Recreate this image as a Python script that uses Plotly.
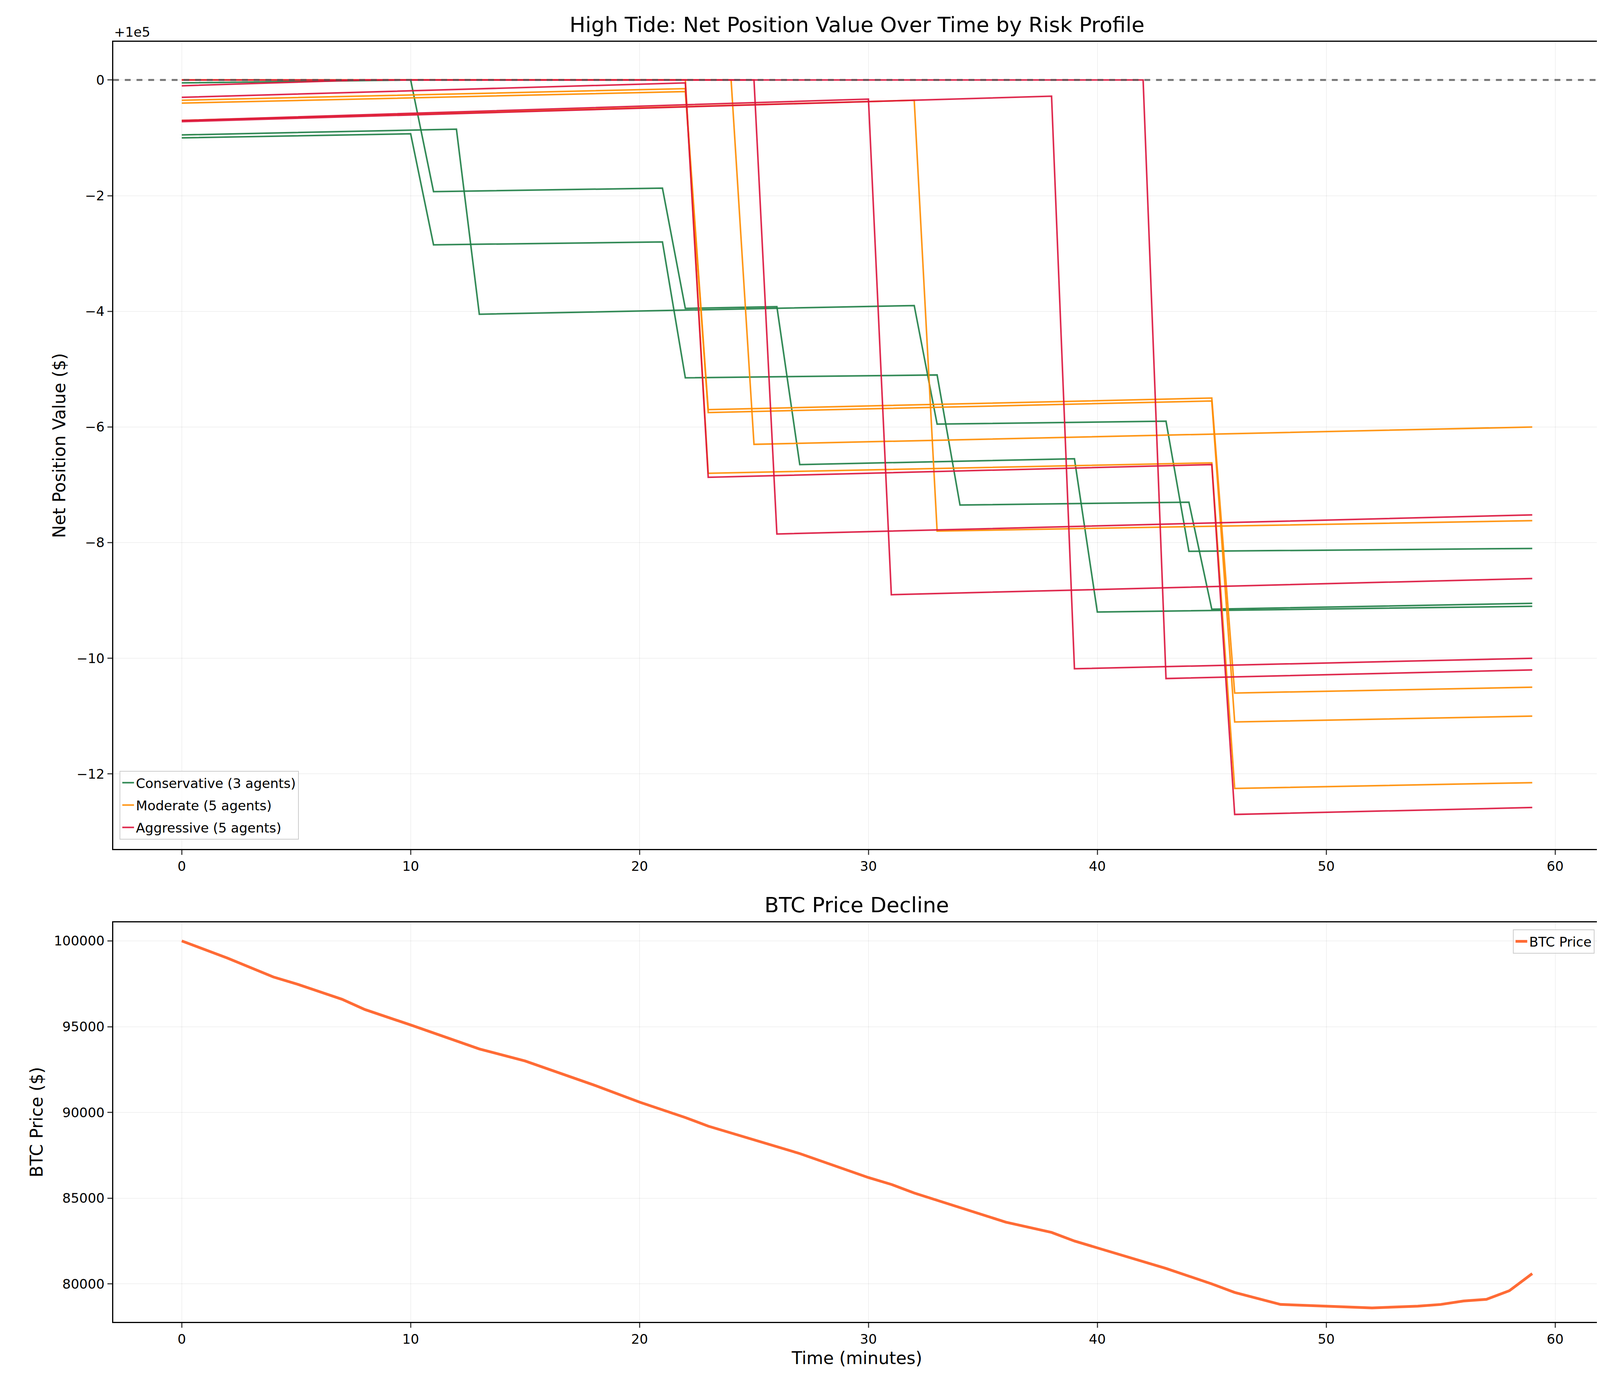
import plotly.graph_objects as go

# net position values in units of 1e5 offset (axis shows "+1e5")
agents = {
    "Conservative": [
        ([0, 12, 13, 32, 33, 43, 44, 59], [-0.95, -0.85, -4.05, -3.9, -5.95, -5.9, -8.15, -8.1]),
        ([0, 10, 11, 21, 22, 33, 34, 44, 45, 59], [-1.0, -0.93, -2.85, -2.8, -5.15, -5.1, -7.35, -7.3, -9.15, -9.05]),
        ([0, 10, 11, 21, 22, 26, 27, 39, 40, 59], [-0.05, 0.0, -1.93, -1.87, -3.95, -3.92, -6.65, -6.55, -9.2, -9.1]),
    ],
    "Moderate": [
        ([0, 22, 23, 45, 46, 59], [-0.35, -0.15, -5.7, -5.5, -10.6, -10.5]),
        ([0, 22, 23, 45, 46, 59], [-0.4, -0.2, -5.75, -5.55, -11.1, -11.0]),
        ([0, 24, 25, 59], [0.0, 0.0, -6.3, -6.0]),
        ([0, 32, 33, 59], [-0.7, -0.35, -7.8, -7.62]),
        ([0, 22, 23, 45, 46, 59], [0.0, 0.0, -6.8, -6.62, -12.25, -12.15]),
    ],
    "Aggressive": [
        ([0, 8, 42, 43, 59], [-0.1, 0.0, 0.0, -10.35, -10.2]),
        ([0, 22, 23, 45, 46, 59], [-0.3, -0.05, -6.87, -6.65, -12.7, -12.58]),
        ([0, 25, 26, 59], [0.0, 0.0, -7.85, -7.52]),
        ([0, 30, 31, 59], [-0.7, -0.33, -8.9, -8.62]),
        ([0, 38, 39, 59], [-0.72, -0.28, -10.18, -10.0]),
    ],
}
colors = {"Conservative": "#1e7e45", "Moderate": "#ff8c00", "Aggressive": "#dc143c"}

btc_t = [0, 2, 4, 5, 7, 8, 10, 13, 15, 18, 20, 22, 23, 25, 27, 30, 31, 32, 35, 36, 38, 39,
         40, 42, 43, 45, 46, 48, 50, 52, 54, 55, 56, 57, 58, 59]
btc_p = [100000, 99000, 97900, 97500, 96600, 96000, 95100, 93700, 93000, 91600, 90600, 89700,
         89200, 88400, 87600, 86200, 85800, 85300, 84000, 83600, 83000, 82500, 82100, 81300,
         80900, 80000, 79500, 78800, 78700, 78600, 78700, 78800, 79000, 79100, 79600, 80600]

fig = go.Figure()
for name, lines in agents.items():
    for i, (t, v) in enumerate(lines):
        fig.add_trace(go.Scatter(
            x=t, y=v, mode="lines", line=dict(color=colors[name], width=4),
            opacity=0.9, name=f"{name} ({len(lines)} agents)", legendgroup=name,
            showlegend=(i == 0), legend="legend", xaxis="x", yaxis="y"))

fig.add_trace(go.Scatter(x=[-3, 62], y=[0, 0], mode="lines", showlegend=False,
                         line=dict(color="#555555", width=5, dash="dash"), opacity=0.8,
                         xaxis="x", yaxis="y"))

fig.add_trace(go.Scatter(x=btc_t, y=btc_p, mode="lines", name="BTC Price",
                         line=dict(color="#ff6b35", width=7), legend="legend2",
                         xaxis="x2", yaxis="y2"))

ax = dict(showline=True, linecolor="black", linewidth=3, mirror=True, ticks="outside",
          ticklen=12, tickwidth=3, gridcolor="rgba(0,0,0,0.1)", zeroline=False,
          tickfont=dict(size=34))
fig.update_layout(
    width=4140, height=3540, plot_bgcolor="white", paper_bgcolor="white",
    font=dict(family="DejaVu Sans", color="black"),
    margin=dict(l=0, r=0, t=0, b=0),
    xaxis=dict(ax, domain=[0.068, 0.988], range=[-3, 62], dtick=10, anchor="y"),
    yaxis=dict(ax, domain=[0.388, 0.972], range=[-13.3, 0.66], dtick=2, anchor="x",
               title=dict(text="Net Position Value ($)", font=dict(size=44))),
    xaxis2=dict(ax, domain=[0.068, 0.988], range=[-3, 62], dtick=10, anchor="y2",
                title=dict(text="Time (minutes)", font=dict(size=44))),
    yaxis2=dict(ax, domain=[0.046, 0.335], range=[77780, 101080], dtick=5000, anchor="x2",
                tickformat="d", title=dict(text="BTC Price ($)", font=dict(size=44))),
    legend=dict(x=0.072, y=0.395, xanchor="left", yanchor="bottom", font=dict(size=34),
                bordercolor="#cccccc", borderwidth=2, bgcolor="rgba(255,255,255,0.8)"),
    legend2=dict(x=0.984, y=0.330, xanchor="right", yanchor="top", font=dict(size=34),
                 bordercolor="#cccccc", borderwidth=2, bgcolor="rgba(255,255,255,0.8)"),
    annotations=[
        dict(text="High Tide: Net Position Value Over Time by Risk Profile", x=0.528, y=0.975,
             xref="paper", yref="paper", xanchor="center", yanchor="bottom", showarrow=False,
             font=dict(size=54)),
        dict(text="BTC Price Decline", x=0.528, y=0.338, xref="paper", yref="paper",
             xanchor="center", yanchor="bottom", showarrow=False, font=dict(size=54)),
        dict(text="+1e5", x=0.068, y=0.973, xref="paper", yref="paper", xanchor="left",
             yanchor="bottom", showarrow=False, font=dict(size=34)),
    ],
)
fig.write_html("out.html")
